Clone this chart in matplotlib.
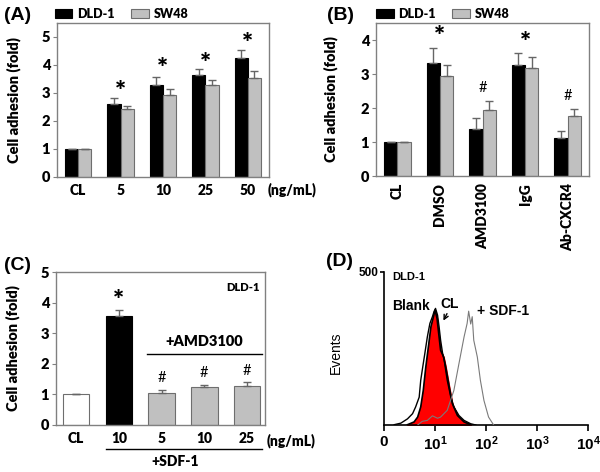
import numpy as np
import matplotlib
matplotlib.use("Agg")
import matplotlib.pyplot as plt

plt.rcParams['font.family'] = ['Lato', 'DejaVu Sans']
plt.rcParams['mathtext.fontset'] = 'custom'
plt.rcParams['mathtext.bf'] = 'Liberation Sans:bold'
plt.rcParams['mathtext.rm'] = 'Liberation Sans:bold'

# ---------------- data ----------------
# Panel A
a_cats = ["CL", "5", "10", "25", "50"]
a_dld = [1.0, 2.62, 3.30, 3.66, 4.24]
a_dld_err = [0.0, 0.20, 0.27, 0.20, 0.29]
a_sw = [1.0, 2.43, 2.92, 3.27, 3.54]
a_sw_err = [0.0, 0.12, 0.23, 0.20, 0.26]
a_marks = ["", "*", "*", "*", "*"]

# Panel B
b_cats = ["CL", "DMSO", "AMD3100", "IgG", "Ab-CXCR4"]
b_dld = [1.0, 3.33, 1.39, 3.26, 1.12]
b_dld_err = [0.0, 0.44, 0.31, 0.37, 0.19]
b_sw = [1.0, 2.95, 1.94, 3.17, 1.77]
b_sw_err = [0.0, 0.31, 0.26, 0.34, 0.21]
b_marks = ["", "*", "#", "*", "#"]

# Panel C
c_cats = ["CL", "10", "5", "10", "25"]
c_vals = [1.0, 3.55, 1.05, 1.23, 1.28]
c_err = [0.0, 0.22, 0.08, 0.09, 0.12]
c_marks = ["", "*", "#", "#", "#"]

# Panel D (x in decades of fluorescence, y = events)
d_blank_x = [0.20, 0.33, 0.46, 0.56, 0.62, 0.69, 0.72, 0.76, 0.80, 0.85, 0.90, 0.95,
             0.98, 1.01, 1.05, 1.08, 1.11, 1.15, 1.18, 1.24, 1.31, 1.37, 1.47, 1.57, 1.70, 1.80]
d_blank_y = [1, 6, 20, 37, 59, 91, 146, 190, 233, 288, 332, 354,
             370, 381, 359, 321, 277, 233, 212, 146, 91, 59, 31, 15, 4, 0]
d_cl_x = [0.46, 0.59, 0.66, 0.72, 0.77, 0.82, 0.87, 0.92, 0.97, 1.00, 1.04, 1.08,
          1.11, 1.17, 1.21, 1.28, 1.34, 1.44, 1.57, 1.70]
d_cl_y = [1, 10, 26, 59, 113, 190, 255, 321, 354, 376, 348, 288,
          244, 222, 190, 124, 70, 31, 10, 1]
d_sdf_x = [0.66, 0.75, 0.85, 0.95, 1.05, 1.11, 1.24, 1.37, 1.47, 1.57, 1.63, 1.66,
           1.70, 1.73, 1.76, 1.83, 1.89, 1.96, 2.05, 2.15]
d_sdf_y = [0, 12, 15, 30, 22, 26, 48, 113, 201, 288, 332, 372,
           330, 354, 277, 222, 146, 80, 26, 0]
d_ticks = ["0", r"$\mathbf{10^1}$", r"$\mathbf{10^2}$", r"$\mathbf{10^3}$", r"$\mathbf{10^4}$"]

# ---------------- styling ----------------
BLACK = "#000000"
GRAY = "#c0c0c0"
GEDGE = "#6e6e6e"
SPINE = "#808080"
ECOL = "#666666"
WT = 'heavy'
ARIAL = 'Liberation Sans'

fig = plt.figure(figsize=(6.0, 4.72), dpi=100)
W, H = 600.0, 472.0


def axpos(l, r, t, b):
    return [l / W, 1 - b / H, (r - l) / W, (b - t) / H]


def style_box(ax):
    for s in ax.spines.values():
        s.set_color(SPINE)
        s.set_linewidth(1.0)
    ax.tick_params(axis='y', direction='out', length=3, width=0.8, color=SPINE,
                   labelsize=10.5, pad=2)
    ax.tick_params(axis='x', length=0, labelsize=10, pad=5)
    for lab in ax.get_yticklabels() + ax.get_xticklabels():
        lab.set_fontweight(WT)


def put_mark(ax, x, y, m):
    if m == "*":
        ax.text(x, y, m, ha='center', va='center', fontsize=19, fontweight=WT)
    elif m == "#":
        ax.text(x, y, m, ha='center', va='center', fontsize=10.5)


def grouped(ax, cats, v1, e1, v2, e2, marks, mark_y):
    x = np.arange(len(cats))
    w = 0.31
    ax.bar(x - w / 2, v1, w, color=BLACK, edgecolor=BLACK, linewidth=0.8,
           yerr=[np.zeros(len(e1)), e1], error_kw=dict(ecolor=ECOL, capsize=3, elinewidth=1, capthick=1),
           label="DLD-1", zorder=2)
    ax.bar(x + w / 2, v2, w, color=GRAY, edgecolor=GEDGE, linewidth=0.8,
           yerr=[np.zeros(len(e2)), e2], error_kw=dict(ecolor=ECOL, capsize=3, elinewidth=1, capthick=1),
           label="SW48", zorder=2)
    for xi, m, yy in zip(x, marks, mark_y):
        put_mark(ax, xi, yy, m)
    ax.set_xlim(-0.5, len(cats) - 0.5)


def legend_top(ax, x0):
    leg = ax.legend(loc='center left', bbox_to_anchor=(x0, 1.06), ncol=2, frameon=False,
                    fontsize=9, handlelength=1.4, handleheight=0.75, handletextpad=0.4,
                    columnspacing=1.3, borderaxespad=0, borderpad=0)
    for t in leg.get_texts():
        t.set_fontweight(WT)


# Panel A
axA = fig.add_axes(axpos(57, 269, 23, 177))
grouped(axA, a_cats, a_dld, a_dld_err, a_sw, a_sw_err, a_marks, [0, 3.05, 3.86, 4.05, 4.75])
axA.set_ylim(0, 5.5)
axA.set_yticks([0, 1, 2, 3, 4, 5])
axA.set_xticks(range(len(a_cats)))
axA.set_xticklabels(a_cats)
style_box(axA)
axA.set_ylabel("Cell adhesion (fold)", fontsize=10.5, fontweight=WT)
axA.yaxis.set_label_coords(-0.17, 0.5)
axA.text(0.995, -0.085, "(ng/mL)", transform=axA.transAxes, ha='left', va='center',
         fontsize=10, fontweight=WT)
legend_top(axA, -0.01)
fig.text(4 / W, 1 - 15 / H, "(A)", fontsize=14, fontweight='bold', ha='left', va='center',
         fontfamily=ARIAL)

# Panel B
axB = fig.add_axes(axpos(376, 589, 23, 176))
grouped(axB, b_cats, b_dld, b_dld_err, b_sw, b_sw_err, b_marks, [0, 4.08, 2.6, 3.9, 2.36])
axB.set_ylim(0, 4.5)
axB.set_yticks([0, 1, 2, 3, 4])
axB.set_xticks(range(len(b_cats)))
axB.set_xticklabels(b_cats, rotation=90)
style_box(axB)
axB.set_ylabel("Cell adhesion (fold)", fontsize=10.5, fontweight=WT)
axB.yaxis.set_label_coords(-0.18, 0.5)
legend_top(axB, 0.0)
fig.text(327 / W, 1 - 16 / H, "(B)", fontsize=14, fontweight='bold', ha='left', va='center',
         fontfamily=ARIAL)

# Panel C
axC = fig.add_axes(axpos(56, 265, 272, 425))
xc = np.arange(len(c_cats))
c_colors = ["#ffffff", BLACK, GRAY, GRAY, GRAY]
c_edges = [GEDGE, BLACK, GEDGE, GEDGE, GEDGE]
axC.bar(xc, c_vals, 0.62, color=c_colors, edgecolor=c_edges, linewidth=0.8,
        yerr=[np.zeros(len(c_err)), c_err],
        error_kw=dict(ecolor=ECOL, capsize=3, elinewidth=1, capthick=1), zorder=2)
for xi, m, yy in zip(xc, c_marks, [0, 4.05, 1.55, 1.70, 1.77]):
    put_mark(axC, xi, yy, m)
axC.set_xlim(-0.47, 4.42)
axC.set_ylim(0, 5)
axC.set_yticks([0, 1, 2, 3, 4, 5])
axC.set_xticks(xc)
axC.set_xticklabels(c_cats)
style_box(axC)
axC.set_ylabel("Cell adhesion (fold)", fontsize=10.5, fontweight=WT)
axC.yaxis.set_label_coords(-0.17, 0.5)
axC.text(0.975, 0.90, "DLD-1", transform=axC.transAxes, ha='right', va='center',
         fontsize=8, fontweight=WT)
axC.plot([1.65, 4.35], [2.31, 2.31], color=BLACK, lw=1)
axC.text(3.0, 2.72, "+AMD3100", ha='center', va='center', fontsize=10.5, fontweight=WT)
axC.text(1.01, -0.10, "(ng/mL)", transform=axC.transAxes, ha='left', va='center',
         fontsize=10, fontweight=WT)
axC.plot([106 / W, 262 / W], [1 - 449 / H, 1 - 449 / H], color=BLACK, lw=1,
         transform=fig.transFigure, clip_on=False)
fig.text(175 / W, 1 - 462 / H, "+SDF-1", fontsize=10, fontweight=WT, ha='center', va='center')
fig.text(4 / W, 1 - 265 / H, "(C)", fontsize=14, fontweight='bold', ha='left', va='center',
         fontfamily=ARIAL)

# Panel D
axD = fig.add_axes(axpos(384, 588, 272, 425))
axD.fill_between(d_cl_x, d_cl_y, 0, color="#ff0000", zorder=2)
axD.plot(d_cl_x, d_cl_y, color=BLACK, lw=1.2, zorder=3)
axD.plot(d_blank_x, d_blank_y, color=BLACK, lw=1.0, zorder=3)
axD.plot(d_sdf_x, d_sdf_y, color="#7a7a7a", lw=0.8, zorder=4)
axD.set_xlim(0, 4)
axD.set_ylim(0, 500)
axD.set_xticks([0, 1, 2, 3, 4])
axD.set_xticklabels(d_ticks)
axD.set_yticks([500])
axD.set_yticklabels(["500"])
for s in ["top", "right"]:
    axD.spines[s].set_visible(False)
for s in ["left", "bottom"]:
    axD.spines[s].set_linewidth(1.2)
axD.tick_params(axis='x', direction='out', length=4, width=1.2, labelsize=11, pad=3)
axD.tick_params(axis='y', direction='out', length=3, width=1.2, labelsize=8.5, pad=1)
for lab in axD.get_xticklabels() + axD.get_yticklabels():
    lab.set_fontfamily(ARIAL)
    lab.set_fontweight('bold')
axD.set_ylabel("Events", fontsize=10, fontfamily=ARIAL)
axD.yaxis.set_label_coords(-0.2, 0.47)
axD.text(0.16, 484, "DLD-1", fontsize=8, fontweight='bold', fontfamily=ARIAL,
         ha='left', va='center')
axD.text(0.16, 389, "Blank", fontsize=10, fontweight='bold', fontfamily=ARIAL,
         ha='left', va='center')
axD.text(1.10, 397, "CL", fontsize=10, fontweight='bold', fontfamily=ARIAL,
         ha='left', va='center')
axD.annotate("", xy=(1.14, 333), xytext=(1.26, 372),
             arrowprops=dict(arrowstyle='->', color=BLACK, lw=1, mutation_scale=8))
axD.text(1.82, 373, "+ SDF-1", fontsize=10, fontweight='bold', fontfamily=ARIAL,
         ha='left', va='center')
fig.text(326 / W, 1 - 262 / H, "(D)", fontsize=14, fontweight='bold', ha='left', va='center',
         fontfamily=ARIAL)

fig.savefig("out.png", dpi=100)
